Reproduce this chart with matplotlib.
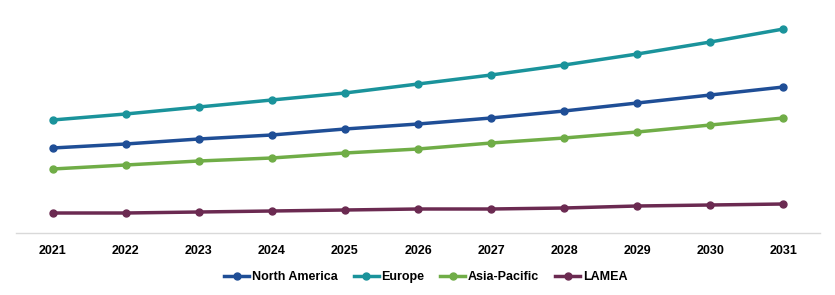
import matplotlib
matplotlib.use("Agg")
import matplotlib.pyplot as plt

years = ["2021", "2022", "2023", "2024", "2025", "2026", "2027", "2028", "2029", "2030", "2031"]
north_america = [85, 89, 94, 98, 104, 109, 115, 122, 130, 138, 146]
europe = [113, 119, 126, 133, 140, 149, 158, 168, 179, 191, 204]
asia_pacific = [64, 68, 72, 75, 80, 84, 90, 95, 101, 108, 115]
lamea = [20, 20, 21, 22, 23, 24, 24, 25, 27, 28, 29]

series = [
    ("North America", north_america, "#1F4E96"),
    ("Europe", europe, "#1A939B"),
    ("Asia-Pacific", asia_pacific, "#70AD47"),
    ("LAMEA", lamea, "#6B2A51"),
]

plt.rcParams["font.family"] = ["Liberation Sans", "DejaVu Sans"]

fig = plt.figure(figsize=(8.35, 2.95), dpi=100)
ax = fig.add_axes([16 / 835, 62 / 295, 804 / 835, 223 / 295])

x = range(len(years))
for name, vals, col in series:
    ax.plot(x, vals, color=col, lw=2.5, marker="o", ms=5, label=name)

ax.set_xlim(-0.5, len(years) - 0.5)
ax.set_ylim(0, 223)
ax.set_yticks([])
ax.set_xticks(list(x))
ax.set_xticklabels(years, fontsize=9, fontweight="bold")
ax.tick_params(axis="x", length=0, pad=9)
for s in ["top", "right", "left"]:
    ax.spines[s].set_visible(False)
ax.spines["bottom"].set_color("#D9D9D9")
ax.spines["bottom"].set_linewidth(1)

leg = fig.legend(loc="center", bbox_to_anchor=(0.51, 1 - 277 / 295), ncol=4, frameon=False,
                 prop={"size": 9, "weight": "bold"}, handlelength=2.0, handletextpad=0.2,
                 columnspacing=1.3)

fig.savefig("out.png", dpi=100)
